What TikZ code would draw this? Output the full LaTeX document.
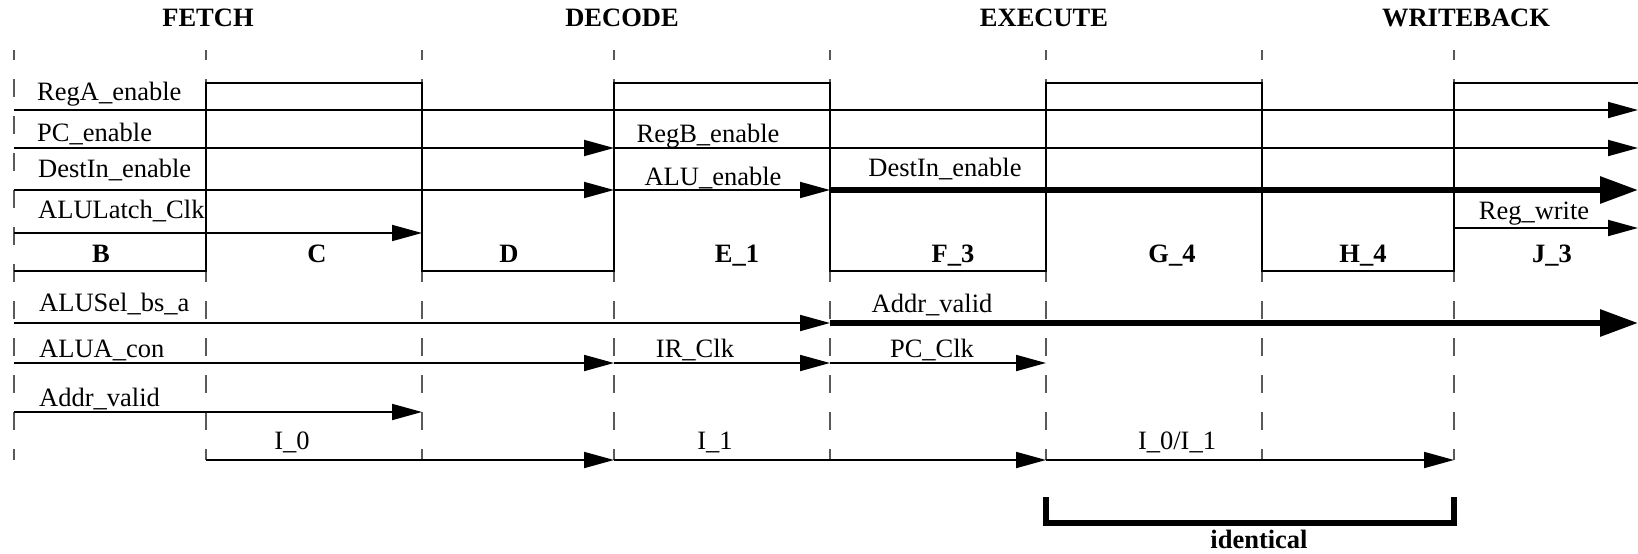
\documentclass[tikz,border=0pt]{standalone}
\usepackage{fontspec}
\setmainfont{Liberation Serif}
\usetikzlibrary{arrows.meta}

\begin{document}
\begin{tikzpicture}[x=1pt, y=-1pt,
  every node/.style={font=\fontsize{26.5}{30}\selectfont, inner sep=0pt},
  sigline/.style={line width=1.8pt, -{Triangle[length=30pt,width=16pt]}},
  busline/.style={line width=6pt, -{Triangle[length=38pt,width=26pt]}},
  wave/.style={line width=1.8pt},
  slotline/.style={black!65, line width=1.8pt, dash pattern=on 18pt off 19pt, dash phase=8pt},
  lefttxt/.style={anchor=base west},
  midtxt/.style={anchor=base},
  phasetxt/.style={anchor=base, font=\fontsize{26.5}{30}\selectfont\bfseries}]
  \useasboundingbox (0,0) rectangle (1638,554);

  \foreach \n/\x in {t0/14, t1/206, t2/422, t3/614, t4/830, t5/1046, t6/1262, t7/1454, tE/1638}
    \coordinate (\n) at (\x,0);
  \foreach \n/\y in {top/50, hi/83, rega/110, pc/148, dest/190, regw/228, alul/233, lo/271,
                     sel/323, alua/363, addr/412, ir/460, brt/497, brb/523}
    \coordinate (\n) at (0,\y);

  \foreach \i in {0,...,7}
    \draw[slotline] (t\i |- top) -- (t\i |- ir);

  \node[phasetxt] (fetch) at (208,27) {FETCH};
  \node[phasetxt] (decode) at (622,27) {DECODE};
  \node[phasetxt] (execute) at (1044,27) {EXECUTE};
  \node[phasetxt] (writeback) at (1466,27) {WRITEBACK};

  \draw[wave] (t0 |- lo) -- (t1 |- lo) -- (t1 |- hi) -- (t2 |- hi) -- (t2 |- lo) -- (t3 |- lo)
    -- (t3 |- hi) -- (t4 |- hi) -- (t4 |- lo) -- (t5 |- lo) -- (t5 |- hi) -- (t6 |- hi)
    -- (t6 |- lo) -- (t7 |- lo) -- (t7 |- hi) -- (tE |- hi);
  \foreach \s/\x in {B/101, C/317, D/509, E\_1/737, F\_3/953, G\_4/1172, H\_4/1363, J\_3/1552}
    \node[phasetxt] (seg\x) at (\x,262) {\s};

  \node[lefttxt] (lRegA) at (37,100) {RegA\_enable};
  \node[lefttxt] (lPC) at (37,141) {PC\_enable};
  \node[lefttxt] (lDest) at (38,177) {DestIn\_enable};
  \node[lefttxt] (lALULatch) at (38,218) {ALULatch\_Clk};
  \node[lefttxt] (lSel) at (39,311) {ALUSel\_bs\_a};
  \node[lefttxt] (lALUA) at (39,357) {ALUA\_con};
  \node[lefttxt] (lAddr) at (39,406) {Addr\_valid};

  \node[midtxt] (lRegB) at (708,142) {RegB\_enable};
  \node[midtxt] (lALU) at (713,185) {ALU\_enable};
  \node[midtxt] (lDest2) at (945,176) {DestIn\_enable};
  \node[midtxt] (lRegW) at (1534,219) {Reg\_write};
  \node[midtxt] (lAddr2) at (932,312) {Addr\_valid};
  \node[midtxt] (lIR) at (695,357) {IR\_Clk};
  \node[midtxt] (lPCClk) at (932,357) {PC\_Clk};
  \node[midtxt] (lI0) at (292,449) {I\_0};
  \node[midtxt] (lI1) at (715,449) {I\_1};
  \node[midtxt] (lI01) at (1177,449) {I\_0/I\_1};

  \draw[sigline] (t0 |- rega) -- (tE |- rega);
  \draw[sigline] (t0 |- pc) -- (t3 |- pc);
  \draw[sigline] (t3 |- pc) -- (tE |- pc);
  \draw[sigline] (t0 |- dest) -- (t3 |- dest);
  \draw[sigline] (t3 |- dest) -- (t4 |- dest);
  \draw[busline] (t4 |- dest) -- (tE |- dest);
  \draw[sigline] (t0 |- alul) -- (t2 |- alul);
  \draw[sigline] (t7 |- regw) -- (tE |- regw);

  \draw[sigline] (t0 |- sel) -- (t4 |- sel);
  \draw[busline] (t4 |- sel) -- (tE |- sel);
  \draw[sigline] (t0 |- alua) -- (t3 |- alua);
  \draw[sigline] (t3 |- alua) -- (t4 |- alua);
  \draw[sigline] (t4 |- alua) -- (t5 |- alua);
  \draw[sigline] (t0 |- addr) -- (t2 |- addr);
  \draw[sigline] (t1 |- ir) -- (t3 |- ir);
  \draw[sigline] (t3 |- ir) -- (t5 |- ir);
  \draw[sigline] (t5 |- ir) -- (t7 |- ir);

  \draw[line width=5.5pt] (t5 |- brt) -- (t5 |- brb) -- (t7 |- brb) -- (t7 |- brt);
  \node[phasetxt] (same) at (1259,548) {identical};
\end{tikzpicture}
\end{document}
